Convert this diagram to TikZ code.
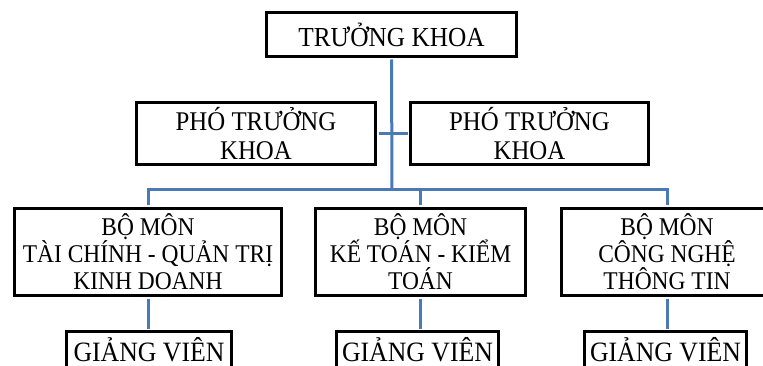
\documentclass[tikz,border=0pt]{standalone}
\usepackage{fontspec}
\setmainfont{Liberation Serif}[FakeStretch=0.92]
\usepackage{tikz}
\definecolor{linkblue}{RGB}{74,122,182}
\tikzset{
every node/.style={rectangle, draw, line width=3pt, inner sep=0pt, align=center, font=\fontsize{25.5}{27}\selectfont},
link/.style={draw=linkblue, line width=3pt, shorten <=1.5pt, shorten >=1.5pt}
}

\begin{document}
\begin{tikzpicture}[x=1pt,y=-1pt]
\useasboundingbox (0,0) rectangle (763,366);

\node [minimum width=250pt, minimum height=44pt, font=\fontsize{27.5}{29}\selectfont] (TK) at (391.5,34.5) {TRƯỞNG KHOA};
\node [minimum width=239pt, minimum height=62pt, font=\fontsize{27}{28.5}\selectfont] (PTK1) at (256,133.5) {PHÓ TRƯỞNG\\KHOA};
\node [minimum width=238pt, minimum height=62pt, font=\fontsize{27}{28.5}\selectfont] (PTK2) at (529.5,133.5) {PHÓ TRƯỞNG\\KHOA};
\node [minimum width=267pt, minimum height=87pt] (BM1) at (148,252) {BỘ MÔN\\TÀI CHÍNH - QUẢN TRỊ\\KINH DOANH};
\node [minimum width=210pt, minimum height=87pt] (BM2) at (420.5,252) {BỘ MÔN\\KẾ TOÁN - KIỂM\\TOÁN};
\node [minimum width=211pt, minimum height=87pt] (BM3) at (667,252) {BỘ MÔN\\CÔNG NGHỆ\\THÔNG TIN};
\node [minimum width=165pt, minimum height=37pt, font=\fontsize{28}{30}\selectfont] (GV1) at (149,350) {GIẢNG VIÊN};
\node [minimum width=162pt, minimum height=37pt, font=\fontsize{28}{30}\selectfont] (GV2) at (417.5,350) {GIẢNG VIÊN};
\node [minimum width=162pt, minimum height=37pt, font=\fontsize{28}{30}\selectfont] (GV3) at (665.5,350) {GIẢNG VIÊN};
\coordinate (bar) at (392,190);

\draw [link] (TK.south) -- (bar);
\draw [link] (PTK1.east) -- (PTK2.west);
\draw [link] (BM1.north) |- (bar) -| (BM3.north);
\draw [link] (BM2.north) -- (BM2.north |- bar);
\draw [link] (BM1.south) -- (BM1.south |- GV1.north);
\draw [link] (BM2.south) -- (BM2.south |- GV2.north);
\draw [link] (BM3.south) -- (BM3.south |- GV3.north);
\end{tikzpicture}
\end{document}
